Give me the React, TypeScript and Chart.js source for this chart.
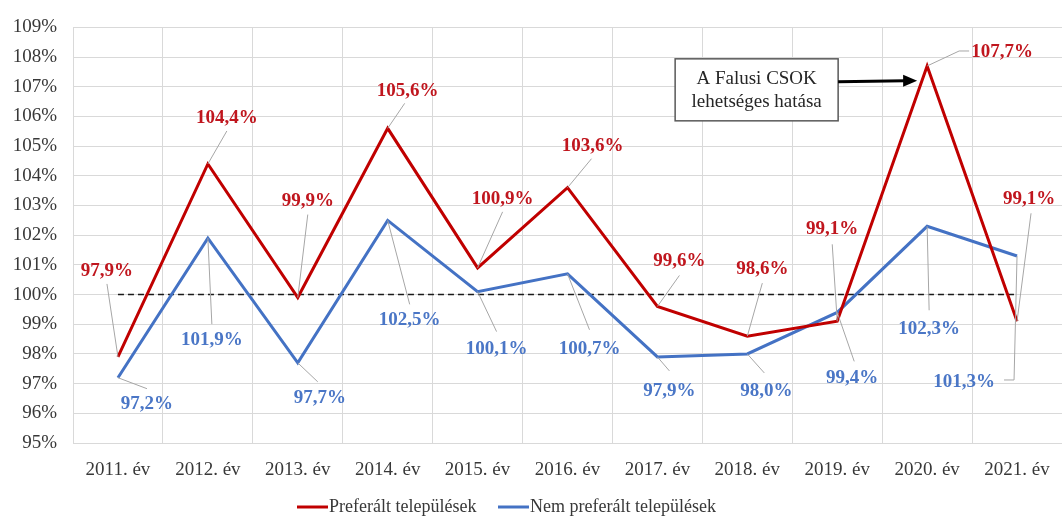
import React, { useEffect, useRef } from 'react';
import { Chart, registerables } from 'chart.js';

Chart.register(...registerables);

const categories = ['2011. év', '2012. év', '2013. év', '2014. év', '2015. év', '2016. év', '2017. év', '2018. év', '2019. év', '2020. év', '2021. év'];
const preferalt = [97.9, 104.4, 99.9, 105.6, 100.9, 103.6, 99.6, 98.6, 99.1, 107.7, 99.1];
const nemPreferalt = [97.2, 101.9, 97.7, 102.5, 100.1, 100.7, 97.9, 98.0, 99.4, 102.3, 101.3];
const referencia = [100, 100, 100, 100, 100, 100, 100, 100, 100, 100, 100];
const yTickValues = [95, 96, 97, 98, 99, 100, 101, 102, 103, 104, 105, 106, 107, 108, 109];
const seriesNames = ['Preferált települések', 'Nem preferált települések'];
const annotationLines = ['A Falusi CSOK', 'lehetséges hatása'];
const annotationIndex = 9;
const annotationValue = 107.2;

// label placement (pixel offsets from the point), kept apart from the data
const redLabelOffsets = [[-11, -86], [19, -46], [10, -96], [20, -37], [25, -69], [25, -42], [22, -45], [15, -67], [-5, -92], [75, -14], [12, -122]];
const redLeaders = [[[-11, -73]], [[19, -33]], [[10, -83]], [[17, -25]], [[25, -56]], [[24, -29]], [[22, -31]], [[15, -53]], [[-5, -77]], [[32, -15], [42, -15]], [[14, -108]]];
const blueLabelOffsets = [[29, 26], [4, 102], [22, 35], [22, 100], [19, 57], [22, 75], [12, 34], [19, 37], [15, 66], [2, 103], [-53, 126]];
const blueLeaders = [[[29, 11]], [[4, 86]], [[20, 19]], [[22, 84]], [[19, 40]], [[22, 56]], [[12, 14]], [[17, 19]], [[17, 49]], [[2, 84]], [[-3, 124], [-13, 124]]];

const RED = '#c00000';
const BLUE = '#4472c4';
const FONT = '"Liberation Serif", "Times New Roman", serif';

const fmt = (v: number) => v.toFixed(1).replace('.', ',') + '%';

const overlayPlugin = {
  id: 'overlay',
  afterDatasetsDraw(chart: any) {
    const ctx = chart.ctx as CanvasRenderingContext2D;
    const groups = [
      { ds: 0, offs: redLabelOffsets, leaders: redLeaders, color: '#c0161e' },
      { ds: 1, offs: blueLabelOffsets, leaders: blueLeaders, color: '#4a76c6' },
    ];
    ctx.save();
    for (const g of groups) {
      const meta = chart.getDatasetMeta(g.ds);
      const data = chart.data.datasets[g.ds].data as number[];
      meta.data.forEach((pt: any, i: number) => {
        const x = pt.x, y = pt.y;
        ctx.beginPath();
        ctx.strokeStyle = '#a6a6a6';
        ctx.lineWidth = 1;
        ctx.moveTo(x, y);
        for (const [dx, dy] of g.leaders[i]) ctx.lineTo(x + dx, y + dy);
        ctx.stroke();
        const [ox, oy] = g.offs[i];
        ctx.font = `bold 19px ${FONT}`;
        ctx.fillStyle = g.color;
        ctx.textAlign = 'center';
        ctx.textBaseline = 'middle';
        ctx.fillText(fmt(data[i]), x + ox, y + oy);
      });
    }
    // annotation box + arrow
    const xs = chart.scales.x, ys = chart.scales.y;
    const ax = xs.getPixelForValue(annotationIndex);
    const ay = ys.getPixelForValue(annotationValue);
    const bx0 = ax - 252, bx1 = ax - 89, by0 = ay - 22, by1 = ay + 40;
    ctx.fillStyle = '#ffffff';
    ctx.fillRect(bx0, by0, bx1 - bx0, by1 - by0);
    ctx.strokeStyle = '#595959';
    ctx.lineWidth = 1.5;
    ctx.strokeRect(bx0, by0, bx1 - bx0, by1 - by0);
    ctx.fillStyle = '#262626';
    ctx.font = `19px ${FONT}`;
    ctx.textAlign = 'center';
    ctx.textBaseline = 'middle';
    ctx.fillText(annotationLines[0], (bx0 + bx1) / 2, ay - 2);
    ctx.fillText(annotationLines[1], (bx0 + bx1) / 2, ay + 21);
    ctx.strokeStyle = '#000000';
    ctx.lineWidth = 3;
    ctx.beginPath();
    ctx.moveTo(bx1, ay + 1);
    ctx.lineTo(ax - 22, ay);
    ctx.stroke();
    ctx.fillStyle = '#000000';
    ctx.beginPath();
    ctx.moveTo(ax - 10, ay);
    ctx.lineTo(ax - 24, ay - 6);
    ctx.lineTo(ax - 24, ay + 6);
    ctx.closePath();
    ctx.fill();
    // legend
    const ly = 507;
    const items = [
      { x: 297, color: RED, text: seriesNames[0] },
      { x: 498, color: BLUE, text: seriesNames[1] },
    ];
    ctx.font = `18px ${FONT}`;
    ctx.textAlign = 'left';
    ctx.textBaseline = 'middle';
    for (const it of items) {
      ctx.strokeStyle = it.color;
      ctx.lineWidth = 3;
      ctx.beginPath();
      ctx.moveTo(it.x, ly);
      ctx.lineTo(it.x + 31, ly);
      ctx.stroke();
      ctx.fillStyle = '#383838';
      ctx.fillText(it.text, it.x + 32, ly);
    }
    ctx.restore();
  },
};

export default function App() {
  const ref = useRef<HTMLCanvasElement | null>(null);
  useEffect(() => {
    if (!ref.current) return;
    const chart = new Chart(ref.current, {
      type: 'line',
      data: {
        labels: categories,
        datasets: [
          { label: seriesNames[0], data: preferalt, borderColor: RED, borderWidth: 3, pointRadius: 0, tension: 0, fill: false },
          { label: seriesNames[1], data: nemPreferalt, borderColor: BLUE, borderWidth: 3, pointRadius: 0, tension: 0, fill: false },
          { label: 'ref', data: referencia, borderColor: '#1a1a1a', borderWidth: 1.5, borderDash: [6, 4], pointRadius: 0, fill: false },
        ],
      },
      options: {
        animation: false,
        responsive: false,
        maintainAspectRatio: false,
        layout: { padding: { top: 23, left: 0, right: 0, bottom: 0 } },
        plugins: { legend: { display: false }, tooltip: { enabled: false }, title: { display: false } },
        scales: {
          x: {
            offset: true,
            grid: { offset: true, color: '#d9d9d9', drawTicks: false },
            border: { color: '#d9d9d9' },
            ticks: { font: { family: FONT, size: 19 }, color: '#383838', padding: 16, maxRotation: 0, autoSkip: false },
            afterFit: (s: any) => { s.height = 73; s.paddingLeft = 0; s.paddingRight = 0; },
          },
          y: {
            min: 95,
            max: 109,
            afterBuildTicks: (s: any) => { s.ticks = yTickValues.map((v) => ({ value: v })); },
            grid: { color: '#d9d9d9', drawTicks: false },
            border: { color: '#d9d9d9' },
            ticks: { font: { family: FONT, size: 19 }, color: '#383838', padding: 16, callback: (v: any) => v + '%' },
            afterFit: (s: any) => { s.width = 73; },
          },
        },
      },
      plugins: [overlayPlugin],
    });
    return () => chart.destroy();
  }, []);
  return (
    <div style={{ position: 'absolute', left: 0, top: 0, width: 1062, height: 516, background: '#fff' }}>
      <canvas ref={ref} width={1062} height={516} style={{ width: 1062, height: 516 }} />
    </div>
  );
}
